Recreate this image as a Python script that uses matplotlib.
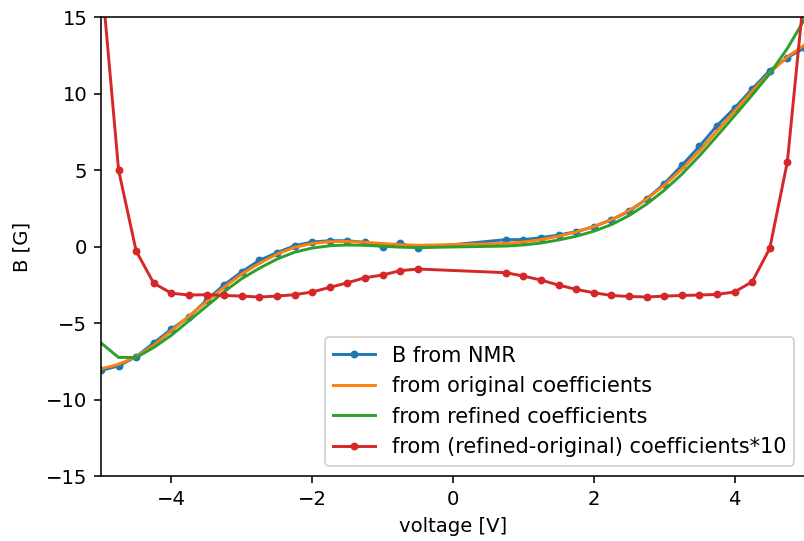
import numpy as np
import matplotlib
matplotlib.use("Agg")
import matplotlib.pyplot as plt

# voltages where NMR field was measured (gap between -0.5 and 0.75)
voltage = [-5.0, -4.75, -4.5, -4.25, -4.0, -3.75, -3.5, -3.25, -3.0, -2.75,
           -2.5, -2.25, -2.0, -1.75, -1.5, -1.25, -1.0, -0.75, -0.5,
           0.75, 1.0, 1.25, 1.5, 1.75, 2.0, 2.25, 2.5, 2.75, 3.0,
           3.25, 3.5, 3.75, 4.0, 4.25, 4.5, 4.75, 5.0]

b_nmr = [-8.1, -7.8, -7.2, -6.3, -5.4, -4.6, -3.5, -2.5, -1.65, -0.9,
         -0.4, 0.05, 0.3, 0.38, 0.38, 0.27, 0.0, 0.2, -0.1,
         0.45, 0.45, 0.58, 0.75, 0.97, 1.3, 1.75, 2.3, 3.1, 4.1,
         5.3, 6.55, 7.9, 9.05, 10.3, 11.5, 12.35, 13.0]

b_original = [-8.0, -7.7, -7.2, -6.45, -5.5, -4.55, -3.6, -2.65, -1.8, -1.1,
              -0.5, -0.05, 0.2, 0.32, 0.33, 0.28, 0.2, 0.12, 0.08,
              0.2, 0.3, 0.45, 0.68, 0.95, 1.3, 1.75, 2.35, 3.1, 4.0,
              5.05, 6.25, 7.55, 8.85, 10.15, 11.35, 12.4, 13.2]

b_refined = [-6.3, -7.25, -7.25, -6.6, -5.8, -4.85, -3.9, -2.95, -2.1, -1.42,
             -0.82, -0.37, -0.1, 0.05, 0.1, 0.08, 0.02, -0.04, -0.07,
             0.03, 0.1, 0.23, 0.43, 0.67, 1.0, 1.43, 2.02, 2.77, 3.67,
             4.72, 5.92, 7.22, 8.55, 9.9, 11.3, 12.95, 14.9]

b_diff10 = [18.0, 5.0, -0.3, -2.4, -3.05, -3.17, -3.15, -3.2, -3.24, -3.3,
            -3.24, -3.15, -2.97, -2.67, -2.37, -2.04, -1.86, -1.58, -1.47,
            -1.71, -1.93, -2.19, -2.52, -2.8, -3.02, -3.2, -3.26, -3.3, -3.24,
            -3.2, -3.17, -3.13, -2.97, -2.3, -0.12, 5.54, 17.2]

dpi = 141
fig = plt.figure(figsize=(804 / dpi, 541 / dpi), dpi=dpi)
ax = fig.add_axes([0.1256, 0.1201, 0.8756, 0.8484])

ax.plot(voltage, b_nmr, '.-', label='B from NMR')
ax.plot(voltage, b_original, label='from original coefficients')
ax.plot(voltage, b_refined, label='from refined coefficients')
ax.plot(voltage, b_diff10, '.-', label='from (refined-original) coefficients*10')

ax.set_xlim(-5, 5)
ax.set_ylim(-15, 15)
ax.set_xlabel('voltage [V]')
ax.set_ylabel('B [G]', labelpad=7.5)
ax.legend(loc='lower right', fontsize=10.7)

fig.savefig('out.png', dpi=dpi)
